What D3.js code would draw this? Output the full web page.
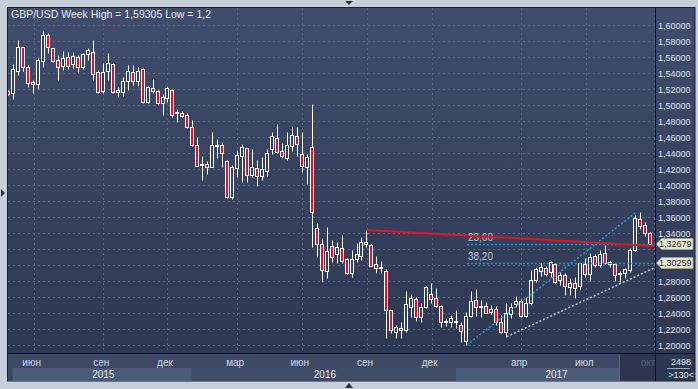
<!DOCTYPE html>
<html>
<head>
<meta charset="utf-8">
<script src="https://cdnjs.cloudflare.com/ajax/libs/d3/7.8.5/d3.min.js"></script>
<style>
  body { margin: 0; background: #c6cfda; }
  svg { display: block; }
  text { font-family: "Liberation Sans", Arial, sans-serif; }
</style>
</head>
<body>
<svg id="chart" width="698" height="389"></svg>
<script>
// weekly GBP/USD candles
const opens = [1.5171,1.5146,1.5429,1.5721,1.5471,1.5288,1.5259,1.5554,1.5875,1.5709,
  1.5563,1.5488,1.5596,1.5509,1.5596,1.5479,1.5634,1.5667,1.5409,1.5175,
  1.5429,1.5509,1.5188,1.5167,1.5304,1.5416,1.5300,1.5446,1.5041,1.5209,
  1.5175,1.5021,1.5092,1.5188,1.4909,1.4904,1.4871,1.4721,1.4500,1.4263,
  1.4259,1.4229,1.4491,1.4500,1.4300,1.3854,1.4209,1.4366,1.4459,1.4125,
  1.4209,1.4116,1.4175,1.4446,1.4584,1.4425,1.4341,1.4491,1.4613,1.4384,
  1.4221,1.4479,1.3459,1.3263,1.2929,1.3238,1.3134,1.3209,1.3071,1.2904,
  1.3075,1.3116,1.3284,1.3250,1.3009,1.2959,1.2929,1.2438,1.2159,1.2216,
  1.2188,1.2471,1.2571,1.2346,1.2471,1.2638,1.2584,1.2488,1.2284,1.2284,
  1.2288,1.2250,1.2054,1.2366,1.2559,1.2475,1.2488,1.2409,1.2446,1.2291,
  1.2166,1.2388,1.2509,1.2550,1.2366,1.2521,1.2813,1.2929,1.2959,1.2909,
  1.3013,1.2813,1.2875,1.2729,1.2779,1.2741,1.3013,1.2888,1.3113,1.3000,
  1.3146,1.3013,1.3009,1.2884,1.2896,1.2938,1.3188,1.3575,1.3500,1.3396];
const highs = [1.5188,1.5513,1.5813,1.5729,1.5500,1.5313,1.5591,1.59305,1.5896,1.5713,
  1.5625,1.5675,1.5659,1.5667,1.5625,1.5654,1.5713,1.5813,1.5438,1.5521,
  1.5646,1.5525,1.5229,1.5354,1.5500,1.5500,1.5479,1.5466,1.5238,1.5321,
  1.5188,1.5138,1.5238,1.5196,1.4950,1.4925,1.4900,1.4813,1.4604,1.4363,
  1.4300,1.4666,1.4575,1.4541,1.4313,1.4250,1.4438,1.4509,1.4463,1.4450,
  1.4313,1.4346,1.4446,1.4666,1.4763,1.4521,1.4666,1.4738,1.4721,1.4666,
  1.4388,1.5013,1.3521,1.3334,1.3471,1.3313,1.3291,1.3375,1.3084,1.3188,
  1.3271,1.3346,1.3438,1.3263,1.3113,1.3050,1.2946,1.2438,1.2250,1.2291,
  1.2679,1.2638,1.2596,1.2521,1.2738,1.2779,1.2716,1.2500,1.2338,1.2375,
  1.2438,1.2291,1.2416,1.2675,1.2696,1.2563,1.2541,1.2500,1.2488,1.2375,
  1.2521,1.2521,1.2613,1.2575,1.2604,1.2938,1.2979,1.3021,1.2988,1.3054,
  1.3021,1.2916,1.2896,1.2841,1.2846,1.3021,1.3084,1.3146,1.3138,1.3188,
  1.3250,1.3054,1.3021,1.2929,1.2959,1.3209,1.3625,1.3659,1.3538,1.3413];
const lows = [1.5125,1.5075,1.5375,1.5429,1.5229,1.5154,1.5200,1.5479,1.5646,1.5538,
  1.5313,1.5438,1.5450,1.5467,1.5417,1.5454,1.5563,1.5313,1.5154,1.5154,
  1.5313,1.5146,1.5096,1.5113,1.5188,1.5250,1.5238,1.5021,1.5021,1.5146,
  1.5013,1.4875,1.5038,1.4854,1.4792,1.4850,1.4709,1.4488,1.4238,1.4063,
  1.4138,1.4221,1.4341,1.4221,1.3841,1.3825,1.4104,1.4041,1.4041,1.4104,
  1.3988,1.4063,1.4116,1.4388,1.4396,1.4334,1.4313,1.4429,1.4363,1.4166,
  1.4009,1.3221,1.3104,1.2791,1.2841,1.3041,1.3029,1.3021,1.2888,1.2854,
  1.3034,1.3063,1.3229,1.2988,1.2904,1.2896,1.2084,1.2146,1.2084,1.2084,
  1.2166,1.2354,1.2304,1.2291,1.2459,1.2521,1.2471,1.2221,1.2238,1.2221,
  1.2209,1.2041,1.2002,1.2354,1.2363,1.2354,1.2396,1.2388,1.2250,1.2146,
  1.2104,1.2334,1.2479,1.2354,1.2354,1.2500,1.2791,1.2863,1.2863,1.2854,
  1.2771,1.2750,1.2625,1.2625,1.2584,1.2688,1.2854,1.2804,1.2979,1.2979,
  1.3009,1.2979,1.2800,1.2784,1.2834,1.2909,1.3179,1.3450,1.3363,1.3255];
const closes = [1.5138,1.5446,1.5721,1.5479,1.5279,1.5259,1.5563,1.5875,1.5729,1.5554,
  1.5479,1.5584,1.5488,1.5613,1.5479,1.5634,1.5688,1.5384,1.5163,1.5416,
  1.5521,1.5159,1.5167,1.5304,1.5429,1.5300,1.5425,1.5041,1.5221,1.5175,
  1.5029,1.5104,1.5217,1.4875,1.4896,1.4866,1.4729,1.4500,1.4241,1.4250,
  1.4229,1.4500,1.4500,1.4396,1.3854,1.4221,1.4375,1.4471,1.4125,1.4221,
  1.4116,1.4200,1.4396,1.4613,1.4409,1.4363,1.4500,1.4625,1.4509,1.4241,
  1.4346,1.3666,1.3259,1.2938,1.3179,1.3096,1.3221,1.3054,1.2904,1.3071,
  1.3134,1.3284,1.3259,1.2991,1.2959,1.2979,1.2438,1.2188,1.2221,1.2188,
  1.2509,1.2591,1.2346,1.2471,1.2721,1.2571,1.2488,1.2284,1.2296,1.2334,
  1.2296,1.2175,1.2366,1.2550,1.2475,1.2488,1.2404,1.2450,1.2291,1.2166,
  1.2396,1.2479,1.2550,1.2366,1.2529,1.2813,1.2946,1.2979,1.2884,1.3034,
  1.2791,1.2875,1.2741,1.2771,1.2709,1.3021,1.2888,1.3104,1.3000,1.3138,
  1.3029,1.3041,1.2875,1.2896,1.2946,1.3188,1.3588,1.3488,1.3400,1.3268];

// month labels (position in weeks from the first candle) and year bands
const monthLabels = ['июн','сен','дек','мар','июн','сен','дек','апр','июл','окт'];
const monthWeeks = [4.9, 18.9, 31.7, 45.8, 58.8, 71.9, 84.9, 102.9, 116.0, 129.6];
const yearLabels = ['2015', '2016', '2017'];
const yearStartWeeks = [0.7, 36.7, 89.8];
const yearEndWeeks = [36.7, 89.8, 131.6];
const scrollStartWeek = 122.6;

const priceMin = 1.2, priceMax = 1.6;
const fibLow = 1.20016, fibHigh = 1.36591, fibLowWeek = 92, fibHighWeek = 126;
const fibLevels = [0.236, 0.382];
const redLine = [[72, 1.3438], [129.8, 1.3237]];
const grayLine = [[100, 1.2104], [123, 1.2771]];
const lastWeek = 129.8;
const title = 'GBP/USD Week High = 1,59305 Low = 1,2';
const barCount = '2498', visibleBars = '>130<';

const svg = d3.select('#chart');
const pLeft = 8, pTop = 8, pRight = 655, pBottom = 353, panelRight = 695, axisBottom = 381;

const x = d3.scaleLinear().domain([0, closes.length - 1]).range([9.3, 651]);
const y = d3.scaleLinear().domain([priceMin, priceMax]).range([345, 25]);
const fmt = v => d3.format('.5f')(v).replace('.', ',');

const defs = svg.append('defs');
const grad = defs.append('linearGradient').attr('id', 'bg')
  .attr('x1', 0).attr('y1', 0).attr('x2', 0).attr('y2', 1);
grad.append('stop').attr('offset', '0%').attr('stop-color', '#404d6c');
grad.append('stop').attr('offset', '100%').attr('stop-color', '#2b3651');
defs.append('clipPath').attr('id', 'clip').append('rect')
  .attr('x', pLeft).attr('y', pTop).attr('width', pRight - pLeft).attr('height', pBottom - pTop);
defs.append('clipPath').attr('id', 'clipAxis').append('rect')
  .attr('x', pLeft).attr('y', pBottom).attr('width', pRight - pLeft).attr('height', axisBottom - pBottom);

// panel
svg.append('rect').attr('x', pLeft - 0.5).attr('y', pTop - 0.5)
  .attr('width', panelRight - pLeft + 0.5).attr('height', axisBottom - pTop + 0.5)
  .attr('fill', 'url(#bg)').attr('stroke', '#1b2130');

// little arrows on the frame
svg.append('path').attr('d', 'M345,1 L353,1 L349,5 Z').attr('fill', '#2a3142');
svg.append('path').attr('d', 'M1,189 L1,197 L5,193 Z').attr('fill', '#2a3142');
svg.append('path').attr('d', 'M345,388 L353,388 L349,383 Z').attr('fill', '#2a3142');

// grid
const priceTicks = y.ticks(20);
const grid = svg.append('g').attr('clip-path', 'url(#clip)');
grid.selectAll('.hg').data(priceTicks).enter().append('line')
  .attr('x1', pLeft).attr('x2', pRight)
  .attr('y1', d => Math.round(y(d)) + 0.5).attr('y2', d => Math.round(y(d)) + 0.5)
  .attr('stroke', '#5a6784').attr('stroke-dasharray', '2,3');
grid.selectAll('.vg').data(monthWeeks).enter().append('line')
  .attr('y1', pTop).attr('y2', pBottom)
  .attr('x1', d => Math.round(x(d)) + 0.5).attr('x2', d => Math.round(x(d)) + 0.5)
  .attr('stroke', '#5a6784').attr('stroke-dasharray', '2,3');

// time axis
const axisG = svg.append('g').attr('clip-path', 'url(#clipAxis)');
axisG.append('rect').attr('x', pLeft).attr('y', pBottom).attr('width', pRight - pLeft)
  .attr('height', axisBottom - pBottom).attr('fill', '#3d4965');
axisG.selectAll('.yb').data(yearLabels).enter().append('rect')
  .attr('x', (d, i) => Math.max(pLeft, x(yearStartWeeks[i])))
  .attr('y', 368)
  .attr('width', (d, i) => Math.min(pRight, x(yearEndWeeks[i])) - Math.max(pLeft, x(yearStartWeeks[i])))
  .attr('height', axisBottom - 368)
  .attr('fill', (d, i) => i % 2 === 0 ? '#4c5b79' : '#3f4b67');
axisG.append('rect').attr('x', x(scrollStartWeek)).attr('y', pBottom + 1)
  .attr('width', pRight - x(scrollStartWeek)).attr('height', axisBottom - pBottom - 1)
  .attr('fill', '#2c374f');
axisG.append('line').attr('x1', Math.round(x(scrollStartWeek)) + 0.5).attr('x2', Math.round(x(scrollStartWeek)) + 0.5)
  .attr('y1', pBottom + 1).attr('y2', axisBottom).attr('stroke', '#56627c');
axisG.selectAll('.ml').data(monthLabels).enter().append('text')
  .attr('x', (d, i) => Math.min(x(monthWeeks[i]) - 2, 648)).attr('y', 366)
  .attr('text-anchor', 'middle').attr('font-size', 10)
  .attr('fill', (d, i) => monthWeeks[i] > scrollStartWeek ? '#56627c' : '#d3dbe8')
  .text(d => d);
axisG.selectAll('.yl').data(yearLabels).enter().append('text')
  .attr('x', (d, i) => (x(yearStartWeeks[i]) + Math.min(pRight, x(yearEndWeeks[i]))) / 2 + 1)
  .attr('y', 377.5).attr('text-anchor', 'middle').attr('font-size', 10).attr('fill', '#e4eaf3')
  .text(d => d);

// candles
const data = closes.map((c, i) => ({i, o: opens[i], h: highs[i], l: lows[i], c}));
const candles = svg.append('g').attr('clip-path', 'url(#clip)');
const cx = d => Math.round(x(d.i));
const py = v => Math.round(y(v)) + 0.5;
candles.selectAll('.wick').data(data).enter().append('line')
  .attr('x1', d => cx(d) - 0.5).attr('x2', d => cx(d) - 0.5)
  .attr('y1', d => py(d.h)).attr('y2', d => py(d.l))
  .attr('stroke', '#ffffff').attr('stroke-width', 1);
candles.selectAll('.body').data(data).enter().append('rect')
  .attr('x', d => cx(d) - 2.5)
  .attr('width', 3)
  .attr('y', d => py(Math.max(d.o, d.c)))
  .attr('height', d => Math.max(1, py(Math.min(d.o, d.c)) - py(Math.max(d.o, d.c))))
  .attr('fill', d => d.c < d.o ? '#e3102c' : '#34405c')
  .attr('stroke', '#ffffff').attr('stroke-width', 1);

// drawn tools
const tools = svg.append('g').attr('clip-path', 'url(#clip)');
const fibPrices = fibLevels.map(f => fibHigh - f * (fibHigh - fibLow));
tools.append('line')
  .attr('x1', x(fibLowWeek)).attr('y1', y(fibLow))
  .attr('x2', x(fibHighWeek)).attr('y2', y(fibHigh))
  .attr('stroke', '#1e9fdc').attr('stroke-width', 1.5).attr('stroke-dasharray', '2,2');
tools.selectAll('.fib').data(fibPrices).enter().append('line')
  .attr('x1', x(fibLowWeek)).attr('x2', pRight)
  .attr('y1', d => Math.round(y(d)) + 0.5).attr('y2', d => Math.round(y(d)) + 0.5)
  .attr('stroke', '#1e9fdc').attr('stroke-width', 1.5).attr('stroke-dasharray', '2,2');
tools.selectAll('.fibt').data(fibLevels).enter().append('text')
  .attr('x', x(fibLowWeek) + 1).attr('y', (d, i) => y(fibPrices[i]) - 3)
  .attr('font-size', 10).attr('fill', '#b4c6e2')
  .text(d => d3.format('.2f')(d * 100).replace('.', ','));
const graySlope = (grayLine[1][1] - grayLine[0][1]) / (grayLine[1][0] - grayLine[0][0]);
tools.append('line')
  .attr('x1', x(grayLine[0][0])).attr('y1', y(grayLine[0][1]))
  .attr('x2', x(lastWeek)).attr('y2', y(grayLine[0][1] + graySlope * (lastWeek - grayLine[0][0])))
  .attr('stroke', '#c4cad6').attr('stroke-width', 1.5).attr('stroke-dasharray', '2,2');
tools.append('line')
  .attr('x1', x(redLine[0][0])).attr('y1', y(redLine[0][1]))
  .attr('x2', x(redLine[1][0])).attr('y2', y(redLine[1][1]))
  .attr('stroke', '#e4161e').attr('stroke-width', 2);

// price axis (labels hidden under a badge are left out)
const pAxis = svg.append('g');
const freeTicks = priceTicks.filter(t => fibPrices.every(f => Math.abs(y(t) - y(f)) > 8));
pAxis.selectAll('.pl').data(freeTicks).enter().append('text')
  .attr('x', 658).attr('y', d => y(d) + 3.5)
  .attr('font-size', 9).attr('fill', '#dde5f0')
  .text(d => fmt(d));
svg.append('line').attr('x1', pRight + 0.5).attr('x2', pRight + 0.5)
  .attr('y1', pTop).attr('y2', axisBottom).attr('stroke', '#0d1018');
svg.append('line').attr('x1', pLeft).attr('x2', panelRight)
  .attr('y1', pBottom + 0.5).attr('y2', pBottom + 0.5).attr('stroke', '#0d1018');

// price badges for the fib levels
const badges = pAxis.selectAll('.badge').data(fibPrices).enter().append('g')
  .attr('transform', d => `translate(${pRight + 1},${Math.round(y(d))})`);
badges.append('path')
  .attr('d', 'M0.5,0 L5.5,-5.5 L37,-5.5 L37,5.5 L5.5,5.5 Z')
  .attr('fill', '#ebe7cf').attr('stroke', '#a3a290').attr('stroke-width', 0.8);
badges.append('text').attr('x', 3).attr('y', 3.3)
  .attr('font-size', 9).attr('fill', '#1c2434')
  .text(d => fmt(d));

// bar counter
pAxis.append('text').attr('x', 681).attr('y', 365).attr('text-anchor', 'middle')
  .attr('font-size', 9).attr('fill', '#dde5f0').text(barCount);
pAxis.append('line').attr('x1', 667).attr('x2', 690).attr('y1', 368.5).attr('y2', 368.5)
  .attr('stroke', '#9aa6bc');
pAxis.append('text').attr('x', 681).attr('y', 378).attr('text-anchor', 'middle')
  .attr('font-size', 9).attr('fill', '#dde5f0').text(visibleBars);

// title
svg.append('text').attr('x', 11).attr('y', 18).attr('font-size', 10.5)
  .attr('fill', '#e6ecf5').text(title);
</script>
</body>
</html>
